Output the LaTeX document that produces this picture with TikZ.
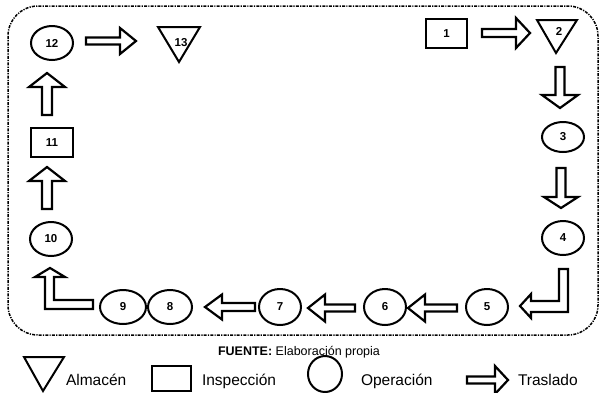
\documentclass[tikz,border=0pt]{standalone}
\usepackage{fontspec}
\setmainfont{Liberation Sans}
% operation: ellipse outline with a named label node at its centre
\newcommand{\opnode}[5]{\draw[shapeline] (#2) ellipse [x radius=#3pt,y radius=#4pt];
  \node[lbl] (#1) at (#2) {#5};}
\begin{document}
\begin{tikzpicture}[x=1pt,y=-1pt,
  every node/.style={inner sep=0pt,outer sep=0pt},
  shapeline/.style={draw=black,line width=2pt,fill=white},
  lbl/.style={font=\bfseries\fontsize{11.5}{12}\selectfont},
  legtext/.style={font=\fontsize{15.5}{16}\selectfont,anchor=base west},
  arrowline/.style={draw=black,line width=2.2pt,fill=white,line join=miter},
  frameline/.style={draw=black,line width=1.5pt,rounded corners=30pt,
    dash pattern=on 3pt off 1.2pt on 1.2pt off 1.2pt},
  pics/barrow/.style n args={4}{code={
    \path[arrowline] (0,-#4) -- (#1-#2,-#4) -- (#1-#2,-#3) -- (#1,0)
      -- (#1-#2,#3) -- (#1-#2,#4) -- (0,#4) -- cycle;}}
]
\useasboundingbox (0,0) rectangle (602,392);

% process frame
\path[frameline] (8,6) rectangle (598,335);

% flow elements
\node[shapeline,minimum width=41pt,minimum height=29pt] (n1) at (446.5,33.5) {};
\node[lbl] at (n1) {1};
\draw[shapeline] (537,20) -- (577,20) -- (556,53) -- cycle;
\node[lbl] (n2) at (559,31) {2};
\opnode{n3}{563,137}{21}{15}{3}
\opnode{n4}{563,238}{21}{17}{4}
\opnode{n5}{487,307}{21}{18}{5}
\opnode{n6}{385,307}{21}{18}{6}
\opnode{n7}{280,307}{21}{18}{7}
\opnode{n8}{170,307}{22}{17}{8}
\opnode{n9}{123,307}{23}{17}{9}
\opnode{n10}{51,239}{21}{17}{10}
\node[shapeline,minimum width=42pt,minimum height=29pt] (n11) at (52,142.5) {};
\node[lbl] at (n11) {11};
\opnode{n12}{52,43}{21}{17}{12}
\draw[shapeline] (158,27) -- (200,27) -- (179,62) -- cycle;
\node[lbl] (n13) at (181,43) {13};

% transport arrows
\pic at (482,33) {barrow={48}{14}{15}{4}};
\pic[rotate=-90] at (560,67) {barrow={41}{13}{18}{4.5}};
\pic[rotate=-90] at (561,168) {barrow={40}{11}{17}{4.5}};
\path[arrowline] (559,269) -- (568,269) -- (568,312) -- (531,312) -- (531,318)
  -- (520,306) -- (531,294) -- (531,301) -- (559,301) -- cycle;
\pic[rotate=180] at (457,308) {barrow={49}{17}{13.5}{3.5}};
\pic[rotate=180] at (355,308) {barrow={47}{17}{13.5}{3.5}};
\pic[rotate=180] at (255,307) {barrow={50}{17}{12.5}{4}};
\path[arrowline] (93,300) -- (93,309) -- (45,309) -- (45,277) -- (35,277)
  -- (50,268) -- (65,277) -- (54,277) -- (54,300) -- cycle;
\pic[rotate=90] at (47,209) {barrow={42}{14}{18}{5}};
\pic[rotate=90] at (47,115) {barrow={42}{14}{18}{5}};
\pic at (86,41) {barrow={50}{16}{13}{3.5}};

% source
\node[font=\fontsize{12.5}{13}\selectfont,anchor=base] (src) at (299,355)
  {\textbf{FUENTE:} Elaboración propia};

% legend
\draw[shapeline] (24,357) -- (64,357) -- (43,391) -- cycle;
\node[legtext] (lalm) at (66,385) {Almacén};
\node[shapeline,minimum width=39pt,minimum height=25pt] (lbox) at (171.5,378.5) {};
\node[legtext] (lins) at (202,385) {Inspección};
\draw[shapeline] (325,374) ellipse [x radius=17pt,y radius=18pt];
\node[legtext] (lope) at (361,385) {Operación};
\pic at (467,380) {barrow={41}{13}{14}{3.5}};
\node[legtext] (ltra) at (518,385) {Traslado};
\end{tikzpicture}
\end{document}
